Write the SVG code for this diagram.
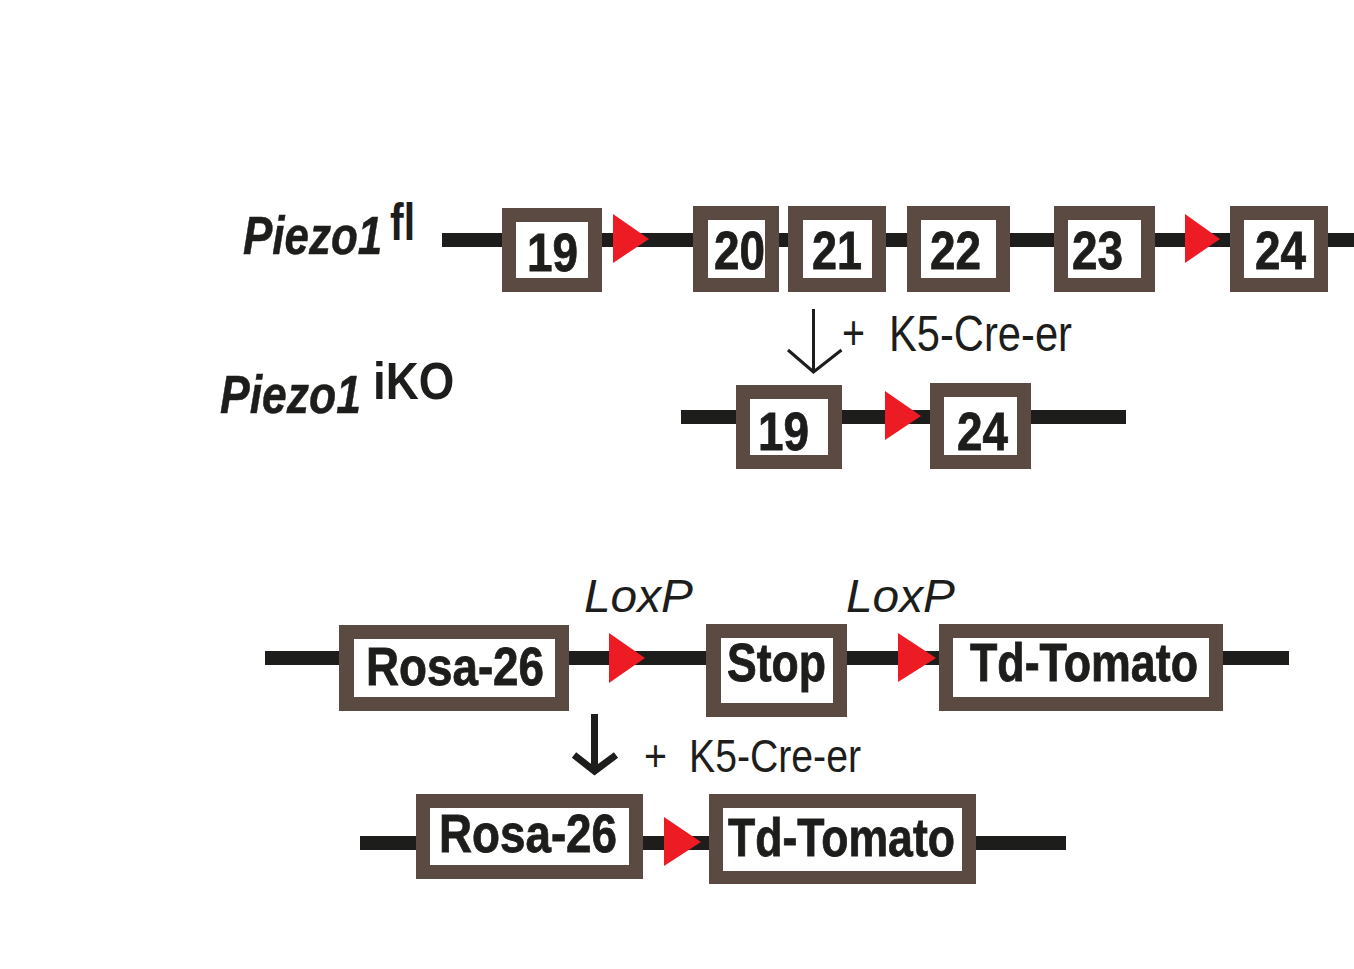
<svg xmlns="http://www.w3.org/2000/svg" width="1354" height="969" viewBox="0 0 1354 969">
<style>
.o{fill:#5b4a42}.i{fill:#fff}.l{fill:#1d1d1b}.t{fill:#ed1c24}
text{font-family:"Liberation Sans",Arial,sans-serif;fill:#1d1d1b}
.b{font-weight:700;font-size:53px;stroke:#1d1d1b;stroke-width:.8px}
.r{font-size:48px}
.it{font-style:italic;font-weight:700;font-size:53px;stroke:#1d1d1b;stroke-width:.5px}
.s{font-weight:700;font-size:52px}
.x{font-style:italic;font-size:47px}
.a{fill:none;stroke:#1d1d1b;stroke-linejoin:miter}
</style>
<rect width="1354" height="969" fill="#fff"/>
<g id="connectors">
<rect class="l" x="442" y="233" width="912" height="14"/>
<rect class="l" x="681" y="410" width="445" height="14"/>
<rect class="l" x="265" y="651" width="1024" height="14"/>
<rect class="l" x="360" y="836" width="706" height="14"/>
<path class="a" stroke-width="3" d="M813.500 309V372M788 350L813.500 372L841.500 350"/>
<path class="a" stroke-width="7" d="M594.500 714V771M574 755L594.500 771L616 755"/>
</g>
<g id="label-piezo1-fl"><text class="it" transform="translate(243 254) scale(.83 1)">Piezo1</text><text class="s" x="390" y="240" textLength="25" lengthAdjust="spacingAndGlyphs">fl</text></g>
<g id="label-piezo1-ikO"><text class="it" transform="translate(220 413) scale(.84 1)">Piezo1</text><text class="s" transform="translate(373 399) scale(.88 1)">iKO</text></g>
<g id="exon-19"><rect class="o" x="502" y="208" width="100" height="84"/><rect class="i" x="516" y="222" width="72" height="56"/><text class="b" x="527" y="271" textLength="51" lengthAdjust="spacingAndGlyphs">19</text></g>
<g id="loxp-1"><polygon class="t" points="613,214 649,239 613,263"/></g>
<g id="exon-20"><rect class="o" x="693" y="206" width="86" height="86"/><rect class="i" x="708" y="220" width="57" height="58"/><text class="b" x="714" y="269" textLength="51" lengthAdjust="spacingAndGlyphs">20</text></g>
<g id="exon-21"><rect class="o" x="788" y="206" width="98" height="86"/><rect class="i" x="803" y="220" width="69" height="58"/><text class="b" x="812" y="269" textLength="50" lengthAdjust="spacingAndGlyphs">21</text></g>
<g id="exon-22"><rect class="o" x="907" y="206" width="103" height="86"/><rect class="i" x="921" y="220" width="75" height="58"/><text class="b" x="930" y="269" textLength="51" lengthAdjust="spacingAndGlyphs">22</text></g>
<g id="exon-23"><rect class="o" x="1054" y="206" width="101" height="86"/><rect class="i" x="1068" y="220" width="73" height="58"/><text class="b" x="1072" y="269" textLength="51" lengthAdjust="spacingAndGlyphs">23</text></g>
<g id="loxp-2"><polygon class="t" points="1185,214 1220,239 1185,263"/></g>
<g id="exon-24"><rect class="o" x="1230" y="206" width="98" height="86"/><rect class="i" x="1244" y="220" width="70" height="58"/><text class="b" x="1255" y="269" textLength="51" lengthAdjust="spacingAndGlyphs">24</text></g>
<g id="label-cre-1"><text class="r" x="842" y="349" textLength="23" lengthAdjust="spacingAndGlyphs">+</text><text class="r" x="889" y="351" textLength="183" lengthAdjust="spacingAndGlyphs" style="font-size:50px">K5-Cre-er</text></g>
<g id="ko-exon-19"><rect class="o" x="736" y="385" width="106" height="84"/><rect class="i" x="750" y="399" width="78" height="56"/><text class="b" x="758" y="450" textLength="51" lengthAdjust="spacingAndGlyphs">19</text></g>
<g id="loxp-3"><polygon class="t" points="885,391 921,416 885,440"/></g>
<g id="ko-exon-24"><rect class="o" x="930" y="383" width="101" height="86"/><rect class="i" x="944" y="397" width="73" height="58"/><text class="b" x="957" y="450" textLength="51" lengthAdjust="spacingAndGlyphs">24</text></g>
<g id="label-loxp-1"><text class="x" x="584" y="612" textLength="109" lengthAdjust="spacingAndGlyphs">LoxP</text></g>
<g id="label-loxp-2"><text class="x" x="846" y="612" textLength="109" lengthAdjust="spacingAndGlyphs">LoxP</text></g>
<g id="rosa-26"><rect class="o" x="339" y="625" width="230" height="86"/><rect class="i" x="354" y="639" width="201" height="58"/><text class="b" x="366" y="685" textLength="178" lengthAdjust="spacingAndGlyphs">Rosa-26</text></g>
<g id="loxp-4"><polygon class="t" points="609,633 645,658 609,683"/></g>
<g id="stop"><rect class="o" x="706" y="624" width="141" height="93"/><rect class="i" x="721" y="638" width="112" height="65"/><text class="b" x="727" y="681" textLength="99" lengthAdjust="spacingAndGlyphs">Stop</text></g>
<g id="loxp-5"><polygon class="t" points="898,633 936,658 898,682"/></g>
<g id="td-tomato"><rect class="o" x="939" y="624" width="284" height="87"/><rect class="i" x="953" y="638" width="256" height="59"/><text class="b" x="970" y="681" textLength="228" lengthAdjust="spacingAndGlyphs">Td-Tomato</text></g>
<g id="label-cre-2"><text class="r" x="644" y="771" textLength="23" lengthAdjust="spacingAndGlyphs" style="font-size:44px">+</text><text class="r" x="689" y="772" textLength="172" lengthAdjust="spacingAndGlyphs" style="font-size:46px">K5-Cre-er</text></g>
<g id="rosa-26-rec"><rect class="o" x="416" y="794" width="227" height="85"/><rect class="i" x="430" y="808" width="199" height="57"/><text class="b" x="439" y="852" textLength="178" lengthAdjust="spacingAndGlyphs">Rosa-26</text></g>
<g id="loxp-6"><polygon class="t" points="664,817 701,842 664,866"/></g>
<g id="td-tomato-rec"><rect class="o" x="709" y="794" width="267" height="90"/><rect class="i" x="723" y="808" width="239" height="63"/><text class="b" x="728" y="856" textLength="227" lengthAdjust="spacingAndGlyphs">Td-Tomato</text></g>
</svg>
